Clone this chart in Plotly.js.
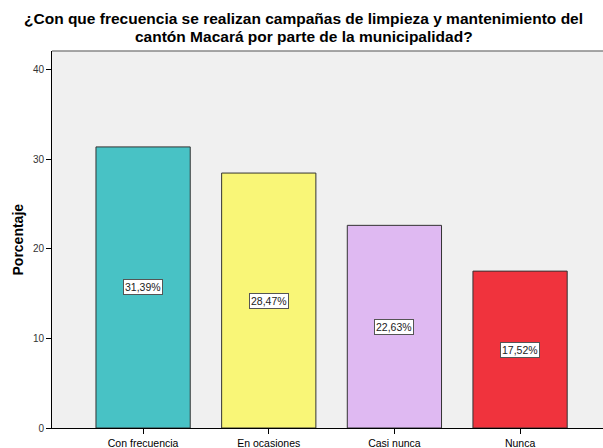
<!DOCTYPE html>
<html><head><meta charset="utf-8">
<script src="https://cdn.plot.ly/plotly-3.0.1.min.js"></script>
<style>html,body{margin:0;padding:0;background:#fff}#c{width:603px;height:448px}</style>
</head><body><div id="c"></div>
<script>
const categories = ["Con frecuencia", "En ocasiones", "Casi nunca", "Nunca"];
const values = [31.39, 28.47, 22.63, 17.52];
const labels = ["31,39%", "28,47%", "22,63%", "17,52%"];
const colors = ["#48c2c5", "#f9f677", "#dfb9f2", "#f0333d"];
const yTicks = [0, 10, 20, 30, 40];
const titleLines = ["¿Con que frecuencia se realizan campañas de limpieza y mantenimiento del",
                    "cantón Macará por parte de la municipalidad?"];

const FONT = "Arial, Liberation Sans, sans-serif";
const idx = categories.map((_, i) => i);
const trace = {
  type: "bar", x: idx, y: values, width: 0.75,
  marker: {color: colors, line: {color: "#333333", width: 1}},
  hoverinfo: "none"
};
const annotations = idx.map(i => ({
  x: i, y: values[i] / 2, xref: "x", yref: "y", text: labels[i], showarrow: false,
  bgcolor: "#ffffff", bordercolor: "#555555", borderwidth: 1, borderpad: 1,
  font: {family: FONT, size: 10.5, color: "#222"}
}));
annotations.push({
  xref: "paper", yref: "paper", x: -0.0635, y: 0.5, xanchor: "center", yanchor: "middle",
  text: "<b>Porcentaje</b>", showarrow: false,
  textangle: -90, font: {family: FONT, size: 14, color: "#000"}
});
const titleY = [1.085, 1.039];
titleLines.forEach((t, i) => annotations.push({
  xref: "paper", yref: "paper", x: 0.457, y: titleY[i], xanchor: "center", yanchor: "middle",
  text: "<b>" + t + "</b>", showarrow: false,
  font: {family: FONT, size: 15.5, color: "#000"}
}));
const layout = {
  width: 603, height: 448,
  margin: {l: 52, r: 0, t: 51, b: 20},
  paper_bgcolor: "#ffffff", plot_bgcolor: "#f0f0f0",
  xaxis: {range: [-0.725, 3.66], tickvals: idx, ticktext: categories, ticks: "outside", ticklen: 5,
    tickcolor: "#000", showline: true, linecolor: "#000", linewidth: 1, showgrid: false, zeroline: false,
    tickfont: {family: FONT, size: 10.5, color: "#000"}, fixedrange: true},
  yaxis: {range: [0, 42.1], tickvals: yTicks, ticks: "outside", ticklen: 5, tickcolor: "#000",
    showline: true, linecolor: "#000", linewidth: 1, showgrid: false, zeroline: false,
    tickfont: {family: FONT, size: 10, color: "#333"}, fixedrange: true},
  shapes: [{type: "line", xref: "paper", yref: "paper", x0: 0, x1: 1, y0: 1, y1: 1, line: {color: "#888", width: 1.5}}],
  annotations: annotations,
  showlegend: false, bargap: 0
};
Plotly.newPlot("c", [trace], layout, {displayModeBar: false, staticPlot: true});
</script></body></html>
